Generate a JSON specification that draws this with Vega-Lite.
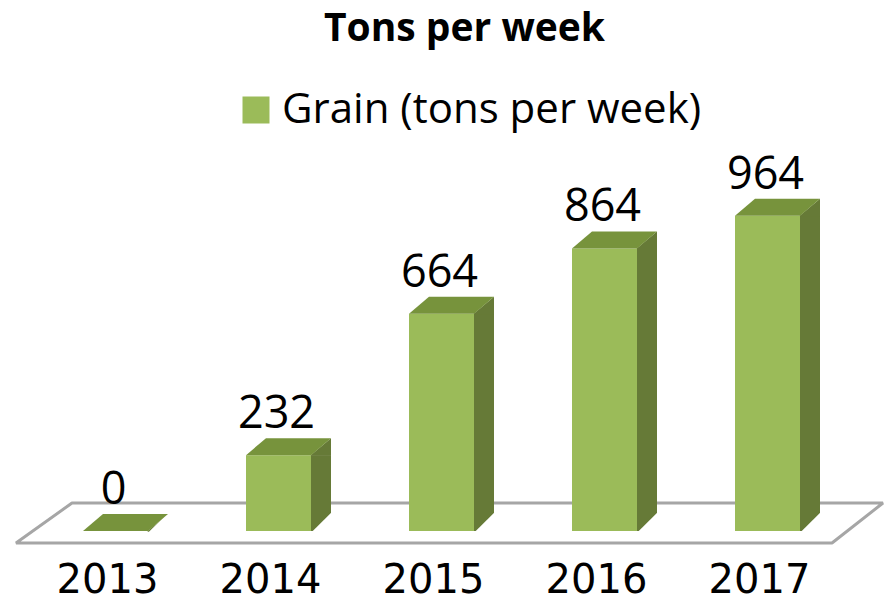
{
  "$schema": "https://vega.github.io/schema/vega-lite/v6.json",
  "width": 815,
  "height": 327,
  "autosize": {"type": "none"},
  "padding": {"left": 34, "top": 204, "right": 35, "bottom": 72},
  "background": "white",
  "title": {
    "text": "Tons per week",
    "font": "Open Sans",
    "fontSize": 39,
    "fontWeight": "bold",
    "color": "#000000",
    "anchor": "middle",
    "offset": 40,
    "dx": 23
  },
  "datasets": {
    "grain": [
      {"year": "2013", "tons": 0, "series": "Grain (tons per week)"},
      {"year": "2014", "tons": 232, "series": "Grain (tons per week)"},
      {"year": "2015", "tons": 664, "series": "Grain (tons per week)"},
      {"year": "2016", "tons": 864, "series": "Grain (tons per week)"},
      {"year": "2017", "tons": 964, "series": "Grain (tons per week)"}
    ],
    "floor": [
      {"year": "2015", "tons": 0}
    ]
  },
  "encoding": {
    "x": {
      "field": "year",
      "type": "nominal",
      "scale": {"paddingInner": 0, "paddingOuter": 0},
      "axis": {
        "title": null,
        "labelAngle": 0,
        "labelFont": "DejaVu Sans",
        "labelFontSize": 40,
        "labelColor": "#000000",
        "labelPadding": 29,
        "labelOffset": -8,
        "ticks": false,
        "domain": false,
        "grid": false
      }
    },
    "y": {
      "field": "tons",
      "type": "quantitative",
      "scale": {"domain": [0, 1000], "nice": false},
      "axis": null
    }
  },
  "layer": [
    {
      "data": {"name": "floor"},
      "mark": {
        "type": "point",
        "filled": true,
        "shape": "M -4.255 0.12 L 3.905 0.12 L 4.415 -0.28 L -3.695 -0.28 Z",
        "size": 40000,
        "fill": "#ffffff",
        "stroke": "#A6A6A6",
        "strokeWidth": 3,
        "strokeJoin": "bevel",
        "opacity": 1
      }
    },
    {
      "data": {"name": "grain"},
      "mark": {
        "type": "bar",
        "width": 20,
        "xOffset": 42.5,
        "color": "#667A37"
      }
    },
    {
      "data": {"name": "grain"},
      "mark": {
        "type": "point",
        "filled": true,
        "shape": "M 0.99 0 L 1.615 -0.523 L 1.615 0.02 L 0.99 0.02 Z",
        "size": 4225,
        "fill": "#667A37",
        "strokeWidth": 0,
        "opacity": 1
      }
    },
    {
      "data": {"name": "grain"},
      "mark": {
        "type": "point",
        "filled": true,
        "shape": "M 1 0.05 L 1.7 0.05 L 1.7 -0.56 L 1.62 -0.56 Z",
        "size": 4225,
        "fill": "#ffffff",
        "strokeWidth": 0,
        "opacity": 1
      },
      "encoding": {
        "y": {"datum": 0, "type": "quantitative"}
      }
    },
    {
      "data": {"name": "grain"},
      "mark": {"type": "bar", "width": 65},
      "encoding": {
        "color": {
          "field": "series",
          "type": "nominal",
          "scale": {"range": ["#9BBB59"]},
          "legend": {
            "title": null,
            "orient": "none",
            "legendX": 201,
            "legendY": -115,
            "padding": 0,
            "symbolType": "square",
            "symbolSize": 729,
            "symbolStrokeWidth": 0,
            "labelFont": "Open Sans",
            "labelFontSize": 42,
            "labelColor": "#000000",
            "labelOffset": 5,
            "labelLimit": 800
          }
        }
      }
    },
    {
      "data": {"name": "grain"},
      "mark": {
        "type": "point",
        "filled": true,
        "shape": "M -1 0 L 1 0 L 1.615 -0.523 L -0.385 -0.523 Z",
        "size": 4225,
        "fill": "#77933C",
        "strokeWidth": 0,
        "opacity": 1
      }
    },
    {
      "data": {"name": "grain"},
      "mark": {
        "type": "text",
        "font": "Open Sans",
        "fontSize": 45,
        "color": "#000000",
        "baseline": "alphabetic",
        "dy": -27,
        "dx": -2
      },
      "encoding": {
        "text": {"field": "tons", "type": "quantitative", "format": "d"}
      }
    }
  ],
  "config": {
    "view": {"stroke": null}
  }
}
